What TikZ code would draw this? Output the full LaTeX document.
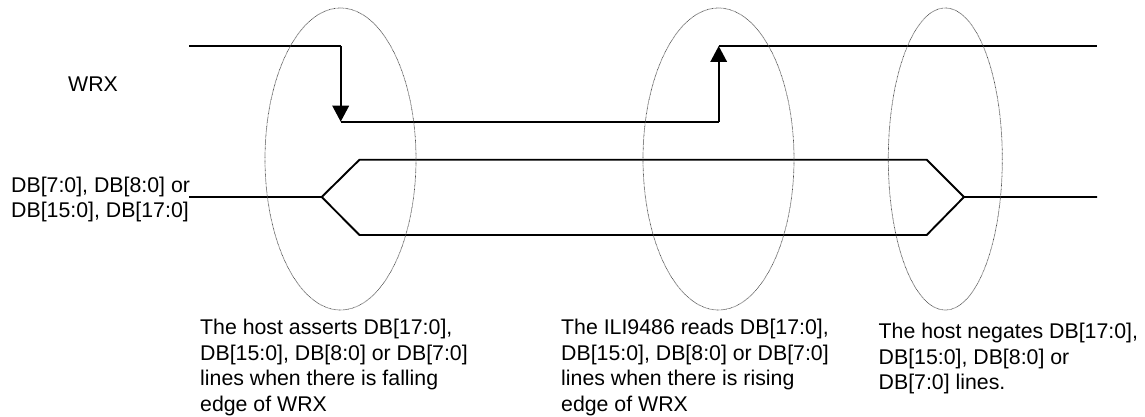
\documentclass[tikz,border=0pt]{standalone}
\usepackage{fontspec}
\setmainfont{Liberation Sans}
\usetikzlibrary{arrows.meta,shapes.geometric}
\tikzset{
  x=1pt,y=-1pt,
  sig/.style={line width=1.9pt,black,line join=miter},
  edge/.style={sig,-{Triangle[length=16pt,width=16.5pt]}},
  zone/.style={shape=ellipse,draw=black!70,line width=0.7pt,dash pattern=on 0.7pt off 0.6pt,inner sep=0pt},
  lbl/.style={inner sep=0pt,anchor=north west,align=left,font=\fontsize{21.3}{25.6}\selectfont},
}
\begin{document}
\begin{tikzpicture}
\useasboundingbox (0,0) rectangle (1145,417);
\coordinate (a0) at (189,46);
\coordinate (a1) at (340.7,46);
\coordinate (a2) at (340.7,121.7);
\coordinate (a3) at (718.7,121.7);
\coordinate (a4) at (718.7,46);
\coordinate (a5) at (1097,46);
\coordinate (b0) at (189,197);
\coordinate (b1) at (321.7,197);
\coordinate (b2) at (359.5,159.7);
\coordinate (b3) at (926.7,159.7);
\coordinate (b4) at (964,197);
\coordinate (b5) at (1097,197);
\coordinate (c2) at (359.5,235);
\coordinate (c3) at (926.7,235);
\draw[sig] (a0) -- (a1);
\draw[edge] (a1) -- (a2);
\draw[sig] (a2) -- (a3);
\draw[edge] (a3) -- (a4);
\draw[sig] (a4) -- (a5);
\draw[sig] (b0) -- (b1) -- (b2) -- (b3) -- (b4) -- (b5);
\draw[sig] (b1) -- (c2) -- (c3) -- (b4);
\node[zone,minimum width=151pt,minimum height=302pt] (e1) at (340.5,159) {};
\node[zone,minimum width=151pt,minimum height=302pt] (e2) at (718.5,159) {};
\node[zone,minimum width=114pt,minimum height=302pt] (e3) at (945.3,159) {};
\node[lbl,anchor=base west] (wrx) at (68,92) {WRX};
\node[lbl] (db) at (11,176.5) {DB[7:0], DB[8:0] or\\DB[15:0], DB[17:0]};
\node[lbl] (t1) at (200,319) {The host asserts DB[17:0],\\DB[15:0], DB[8:0] or DB[7:0]\\lines when there is falling\\edge of WRX};
\node[lbl] (t2) at (561,319) {The ILI9486 reads DB[17:0],\\DB[15:0], DB[8:0] or DB[7:0]\\lines when there is rising\\edge of WRX};
\node[lbl] (t3) at (878.5,323) {The host negates DB[17:0],\\DB[15:0], DB[8:0] or\\DB[7:0] lines.};
\end{tikzpicture}
\end{document}
